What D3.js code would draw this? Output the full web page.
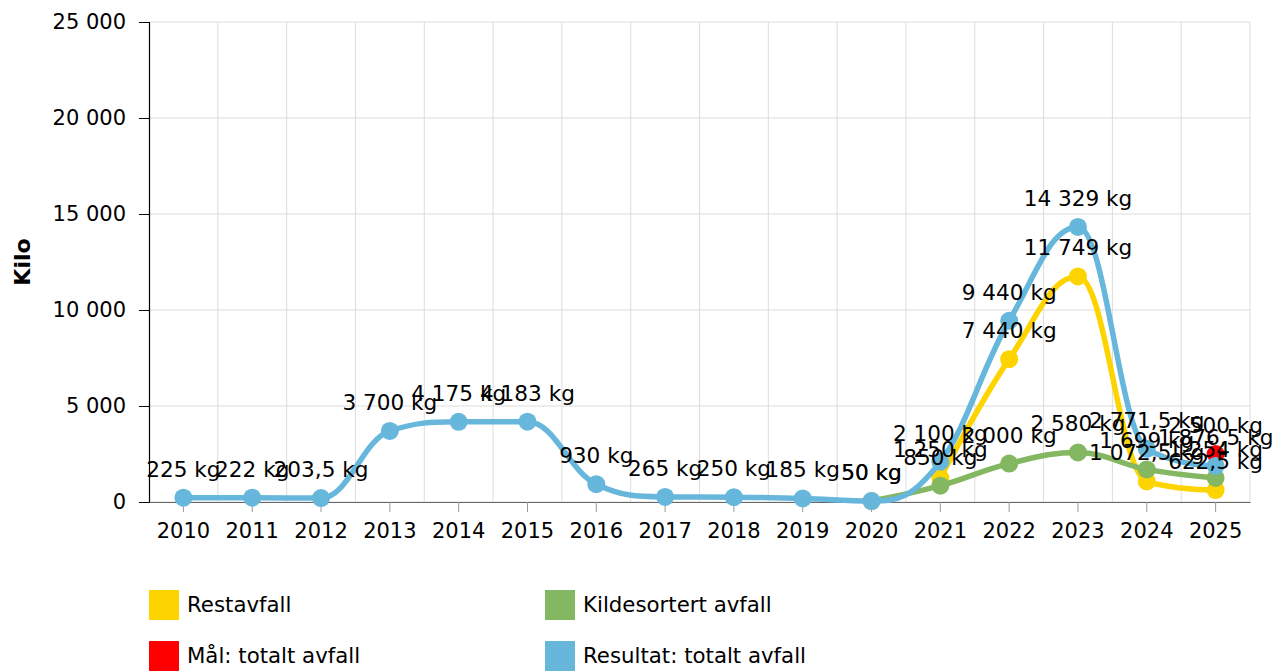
<!DOCTYPE html>
<html>
<head>
<meta charset="utf-8">
<script src="https://cdn.jsdelivr.net/npm/d3@7"></script>
<style>
  body { margin: 0; background: #fff; }
  svg { display: block; font-family: "DejaVu Sans", Verdana, sans-serif; }
</style>
</head>
<body>
<div id="chart"></div>
<script>
// data
const years = ['2010','2011','2012','2013','2014','2015','2016','2017','2018','2019','2020','2021','2022','2023','2024','2025'];
const restavfall   = [null,null,null,null,null,null,null,null,null,null,null,1250,7440,11749,1072.5,622.5];
const kildesortert = [null,null,null,null,null,null,null,null,null,null,50,850,2000,2580,1699,1254];
const maal         = [null,null,null,null,null,null,null,null,null,null,null,null,null,null,null,2500];
const resultat     = [225,222,203.5,3700,4175,4183,930,265,250,185,50,2100,9440,14329,2771.5,1876.5];
const yTicks = [0, 5000, 10000, 15000, 20000, 25000];

const series = [
  {name: 'Restavfall', values: restavfall, color: '#fdd300'},
  {name: 'Kildesortert avfall', values: kildesortert, color: '#84b761'},
  {name: 'Mål: totalt avfall', values: maal, color: '#ff0000'},
  {name: 'Resultat: totalt avfall', values: resultat, color: '#67b7dc'}
];

const width = 1277, height = 672;
const plotLeft = 149, plotRight = 1250, plotTop = 22, plotBottom = 502;

const locale = d3.formatLocale({decimal: ',', thousands: '\u00a0', grouping: [3], currency: ['', '']});
const fInt = locale.format(',d');
const fDec = locale.format(',.1f');
const fmt = v => Number.isInteger(v) ? fInt(v) : fDec(v);

const svg = d3.select('#chart').append('svg')
  .attr('width', width)
  .attr('height', height);

const x = d3.scaleBand().domain(years).range([plotLeft, plotRight]).padding(0);
const y = d3.scaleLinear().domain([0, 25000]).range([plotBottom, plotTop]);
const cx = d => x(d) + x.bandwidth() / 2;

// grid
const grid = svg.append('g');
grid.selectAll('.hg').data(yTicks).enter().append('line')
  .attr('x1', plotLeft).attr('x2', plotRight)
  .attr('y1', d => y(d)).attr('y2', d => y(d))
  .attr('stroke', '#dcdcdc').attr('stroke-width', 1);
const edges = years.map(d => x(d)).concat([plotRight]);
grid.selectAll('.vg').data(edges.slice(1)).enter().append('line')
  .attr('x1', d => d).attr('x2', d => d)
  .attr('y1', plotTop).attr('y2', plotBottom)
  .attr('stroke', '#dcdcdc').attr('stroke-width', 1);

// axes
const yAxis = svg.append('g')
  .attr('transform', `translate(${plotLeft},0)`)
  .call(d3.axisLeft(y).tickValues(yTicks).tickFormat(fInt).tickSize(10).tickPadding(13));
yAxis.select('.domain').attr('stroke', '#000').attr('stroke-width', 1.2);
yAxis.selectAll('.tick line').attr('stroke', '#000');
yAxis.selectAll('text').attr('font-size', 21).attr('fill', '#000')
  .style('font-family', '"DejaVu Sans", Verdana, sans-serif');

const xAxis = svg.append('g')
  .attr('transform', `translate(0,${plotBottom})`)
  .call(d3.axisBottom(x).tickSize(10).tickPadding(11).tickSizeOuter(0));
xAxis.select('.domain').attr('stroke', '#666').attr('stroke-width', 1.2);
xAxis.selectAll('.tick line').attr('stroke', '#999');
xAxis.selectAll('text').attr('font-size', 21).attr('fill', '#000')
  .style('font-family', '"DejaVu Sans", Verdana, sans-serif');

svg.append('text')
  .attr('transform', `translate(30,262) rotate(-90)`)
  .attr('text-anchor', 'middle')
  .attr('font-size', 22).attr('font-weight', 'bold')
  .text('Kilo');

// highcharts-like spline
function splinePath(pts) {
  const p = d3.path();
  const sm = 1.5, den = 2.5;
  const rc = [];
  pts.forEach((pt, i) => {
    if (i === 0) { p.moveTo(pt.x, pt.y); return; }
    const last = pts[i - 1], next = pts[i + 1];
    let lcx = pt.x, lcy = pt.y;
    if (next) {
      lcx = (sm * pt.x + last.x) / den;
      lcy = (sm * pt.y + last.y) / den;
      let rcx = (sm * pt.x + next.x) / den;
      let rcy = (sm * pt.y + next.y) / den;
      let corr = 0;
      if (rcx !== lcx) corr = ((rcy - lcy) * (rcx - pt.x)) / (rcx - lcx) + pt.y - rcy;
      lcy += corr; rcy += corr;
      if (lcy > last.y && lcy > pt.y) { lcy = Math.max(last.y, pt.y); rcy = 2 * pt.y - lcy; }
      else if (lcy < last.y && lcy < pt.y) { lcy = Math.min(last.y, pt.y); rcy = 2 * pt.y - lcy; }
      if (rcy > next.y && rcy > pt.y) { rcy = Math.max(next.y, pt.y); lcy = 2 * pt.y - rcy; }
      else if (rcy < next.y && rcy < pt.y) { rcy = Math.min(next.y, pt.y); lcy = 2 * pt.y - rcy; }
      rc[i] = [rcx, rcy];
    }
    const r = rc[i - 1] || [last.x, last.y];
    p.bezierCurveTo(r[0], r[1], lcx, lcy, pt.x, pt.y);
  });
  return p.toString();
}

const plot = svg.append('g');
series.forEach(s => {
  const pts = years.map((yr, i) => ({yr: yr, v: s.values[i]}))
    .filter(d => d.v !== null)
    .map(d => ({x: cx(d.yr), y: y(d.v), v: d.v}));
  s.pts = pts;
  const g = plot.append('g');
  if (pts.length > 1) {
    g.append('path')
      .attr('d', splinePath(pts))
      .attr('fill', 'none')
      .attr('stroke', s.color)
      .attr('stroke-width', 5.5)
      .attr('stroke-linecap', 'round')
      .attr('stroke-linejoin', 'round');
  }
  g.selectAll('circle').data(pts).enter().append('circle')
    .attr('cx', d => d.x).attr('cy', d => d.y)
    .attr('r', 9)
    .attr('fill', s.color);
});

// data labels
const labels = svg.append('g')
  .attr('font-size', 21.6).attr('fill', '#000').attr('text-anchor', 'middle');
series.forEach(s => {
  labels.selectAll(null).data(s.pts).enter().append('text')
    .attr('x', d => d.x)
    .attr('y', d => d.y - 21)
    .text(d => fmt(d.v) + ' kg');
});
labels.selectAll('text').each(function() {
  const b = this.getBBox();
  if (b.x + b.width > width - 2) d3.select(this).attr('x', +d3.select(this).attr('x') - (b.x + b.width - width + 2));
});

// legend
const legendPos = [[149, 590], [545, 590], [149, 641], [545, 641]];
const legend = svg.append('g');
series.forEach((s, i) => {
  const [lx, ly] = legendPos[i];
  legend.append('rect')
    .attr('x', lx).attr('y', ly).attr('width', 30).attr('height', 30)
    .attr('fill', s.color);
  legend.append('text')
    .attr('x', lx + 38).attr('y', ly + 22)
    .attr('font-size', 21.3)
    .text(s.name);
});
</script>
</body>
</html>
